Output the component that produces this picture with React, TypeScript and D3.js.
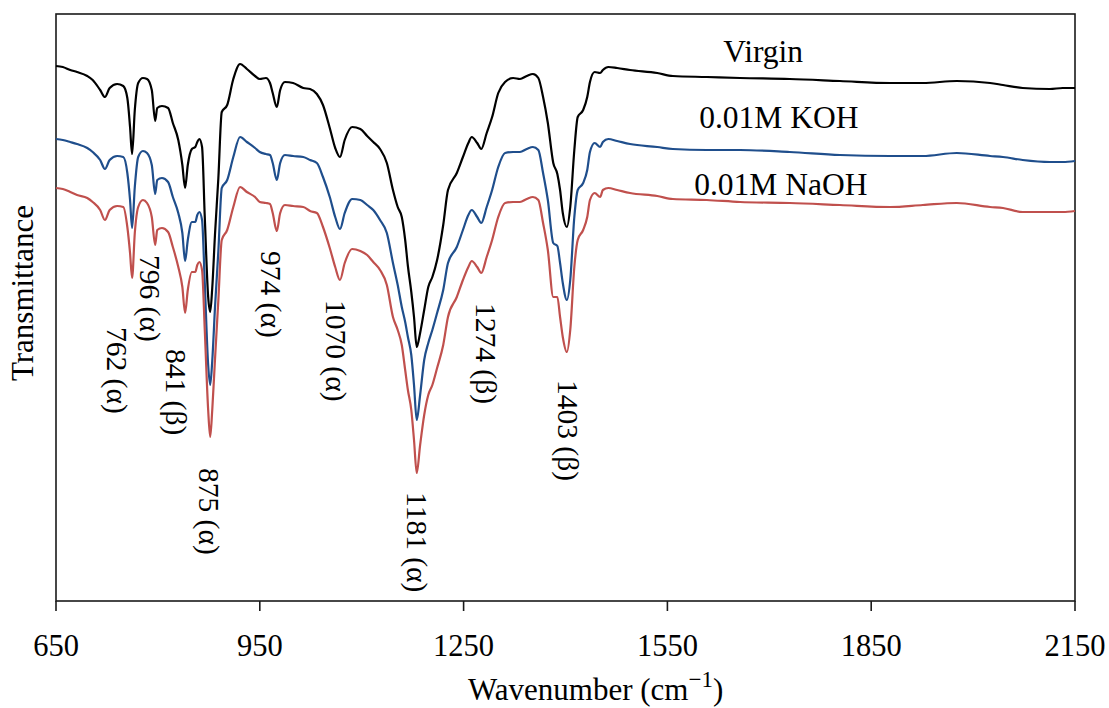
import React from 'react';
import * as d3 from 'd3';

// Wavenumber grid (cm^-1) shared by the three spectra
const wavenumbers = [650, 660, 671, 681, 696, 704, 715, 722, 729, 740, 749, 755, 759, 762, 766, 771, 778, 784, 791, 796, 799, 806, 815, 822, 830, 836, 840, 844, 850, 855, 858, 861, 865, 869, 874, 877, 880, 884, 889, 894, 902, 911, 921, 931, 943, 950, 959, 965, 969, 975, 980, 987, 999, 1014, 1024, 1034, 1043, 1053, 1061, 1068, 1075, 1086, 1098, 1108, 1117, 1127, 1137, 1146, 1153, 1159, 1164, 1168, 1173, 1177, 1181, 1186, 1192, 1198, 1204, 1211, 1220, 1227, 1240, 1249, 1257, 1262, 1270, 1276, 1284, 1292, 1301, 1311, 1323, 1333, 1343, 1352, 1360, 1367, 1374, 1382, 1388, 1392, 1396, 1402, 1407, 1413, 1418, 1426, 1432, 1436, 1443, 1451, 1455, 1463, 1476, 1495, 1535, 1558, 1608, 1657, 1730, 1804, 1878, 1926, 1976, 2025, 2044, 2073, 2113, 2132, 2150];

// Transmittance (arbitrary units, vertically offset spectra)
const virgin = [534, 533, 530, 528, 524, 520, 510, 503, 512, 516, 514, 502, 473, 446, 490, 517, 522, 521, 510, 479, 492, 494, 492, 477, 460, 435, 412, 435, 451, 453, 458, 461, 453, 383, 303, 288, 312, 365, 422, 488, 495, 521, 536, 531, 524, 521, 522, 517, 507, 493, 510, 518, 517, 512, 511, 506, 495, 472, 452, 443, 460, 473, 471, 464, 458, 451, 437, 410, 393, 383, 360, 334, 308, 283, 253, 267, 290, 313, 323, 340, 375, 410, 427, 443, 457, 463, 457, 451, 467, 483, 507, 518, 522, 521, 524, 526, 522, 503, 477, 437, 426, 410, 387, 373, 393, 450, 483, 490, 503, 518, 528, 527, 530, 533, 532, 530, 527, 524, 523, 522, 521, 519, 517, 517, 519, 517, 515, 512, 511, 512, 512];
const koh = [461, 460, 458, 456, 452, 448, 440, 431, 440, 444, 443, 427, 400, 372, 413, 443, 449, 447, 435, 406, 420, 422, 418, 403, 387, 367, 339, 360, 378, 378, 385, 388, 380, 317, 235, 215, 239, 292, 349, 412, 420, 443, 463, 458, 452, 448, 446, 445, 437, 420, 437, 445, 444, 443, 440, 437, 423, 403, 383, 371, 387, 401, 400, 395, 390, 380, 367, 337, 315, 293, 278, 263, 245, 215, 180, 205, 240, 257, 270, 287, 310, 337, 353, 370, 385, 390, 383, 377, 393, 410, 433, 447, 448, 448, 451, 453, 450, 427, 400, 357, 354, 337, 317, 300, 320, 383, 410, 417, 430, 448, 457, 453, 458, 461, 459, 456, 453, 451, 450, 450, 448, 445, 444, 444, 447, 444, 443, 440, 438, 438, 439];
const naoh = [412, 411, 408, 405, 402, 398, 390, 380, 390, 394, 393, 373, 347, 322, 367, 393, 400, 397, 383, 355, 370, 372, 368, 353, 333, 313, 287, 310, 328, 328, 335, 338, 330, 270, 190, 163, 190, 240, 300, 360, 370, 393, 413, 408, 403, 398, 397, 396, 387, 369, 387, 395, 394, 393, 389, 387, 373, 352, 333, 320, 337, 351, 349, 345, 338, 330, 315, 283, 270, 255, 230, 210, 190, 160, 127, 155, 185, 205, 215, 232, 255, 283, 303, 320, 333, 339, 333, 327, 343, 360, 383, 397, 398, 398, 401, 403, 400, 377, 350, 303, 303, 283, 263, 248, 270, 333, 360, 370, 383, 400, 407, 403, 410, 412, 410, 407, 404, 401, 400, 398, 397, 395, 393, 395, 397, 393, 392, 388, 388, 388, 389];

const xTicks = [650, 950, 1250, 1550, 1850, 2150];

const seriesNames = ['Virgin', '0.01M KOH', '0.01M NaOH'];
const seriesColors = ['#000000', '#1f4e8c', '#c0504d'];
const seriesLabelWavenumber = [1691, 1714, 1717];
const seriesLabelLevel = [538, 472, 405];

const peakLabels = ['762 (α)', '796 (α)', '841 (β)', '875 (α)', '974 (α)', '1070 (α)', '1181 (α)', '1274 (β)', '1403 (β)'];
const peakLabelWavenumber = [740, 789, 827, 875, 967, 1062, 1182, 1283, 1404];
const peakLabelLevel = [273, 345, 251, 132, 349, 300, 108, 297, 220];

export default function App() {
  const W = 1109;
  const H = 708;
  const left = 56;
  const right = 1075;
  const top = 14;
  const bottom = 601;
  const font = "'Liberation Serif', 'Times New Roman', Tinos, 'DejaVu Serif', serif";

  const x = d3.scaleLinear().domain([650, 2150]).range([left, right]);
  const y = d3.scaleLinear().domain([-1, 586]).range([bottom, top]);

  const line = d3
    .line<number>()
    .x((_, i) => x(wavenumbers[i]))
    .y((d) => y(d))
    .curve(d3.curveMonotoneX);

  const series = [virgin, koh, naoh];
  const ts = { fontFamily: font };

  return (
    <svg
      width={W}
      height={H}
      style={{ position: 'absolute', left: 0, top: 0, background: '#fff', fontFamily: font }}
    >
      <rect x={0} y={0} width={W} height={H} fill="#fff" />
      {/* plot frame */}
      <rect x={left} y={top} width={right - left} height={bottom - top} fill="none" stroke="#1a1a1a" strokeWidth={1.6} />
      {/* x ticks */}
      {xTicks.map((t) => (
        <g key={t}>
          <line x1={x(t)} x2={x(t)} y1={bottom} y2={bottom + 10} stroke="#1a1a1a" strokeWidth={1.6} />
          <text x={x(t)} y={656} textAnchor="middle" fontSize={30.5} fill="#000" style={ts}>
            {t}
          </text>
        </g>
      ))}
      {/* spectra */}
      {series.map((s, i) => (
        <path key={i} d={line(s) || ''} fill="none" stroke={seriesColors[i]} strokeWidth={2.2} strokeLinejoin="round" />
      ))}
      {/* series labels */}
      {seriesNames.map((n, i) => (
        <text key={n} x={x(seriesLabelWavenumber[i])} y={y(seriesLabelLevel[i])} textAnchor="middle" fontSize={31.5} fill="#000" style={ts}>
          {n}
        </text>
      ))}
      {/* peak labels */}
      {peakLabels.map((lab, i) => {
        const bx = x(peakLabelWavenumber[i]) - 10;
        const by = y(peakLabelLevel[i]);
        return (
          <text key={lab} x={bx} y={by} transform={`rotate(90, ${bx}, ${by})`} fontSize={29.5} fill="#000" style={ts}>
            {lab}
          </text>
        );
      })}
      {/* axis titles */}
      <text x={33} y={293} transform="rotate(-90, 33, 293)" textAnchor="middle" fontSize={31} fill="#000" style={ts}>
        Transmittance
      </text>
      <text x={468} y={700} fontSize={31} fill="#000" style={ts}>
        <tspan>Wavenumber (cm</tspan>
        <tspan fontSize={23} dy={-13}>−1</tspan>
        <tspan dy={13}>)</tspan>
      </text>
    </svg>
  );
}
